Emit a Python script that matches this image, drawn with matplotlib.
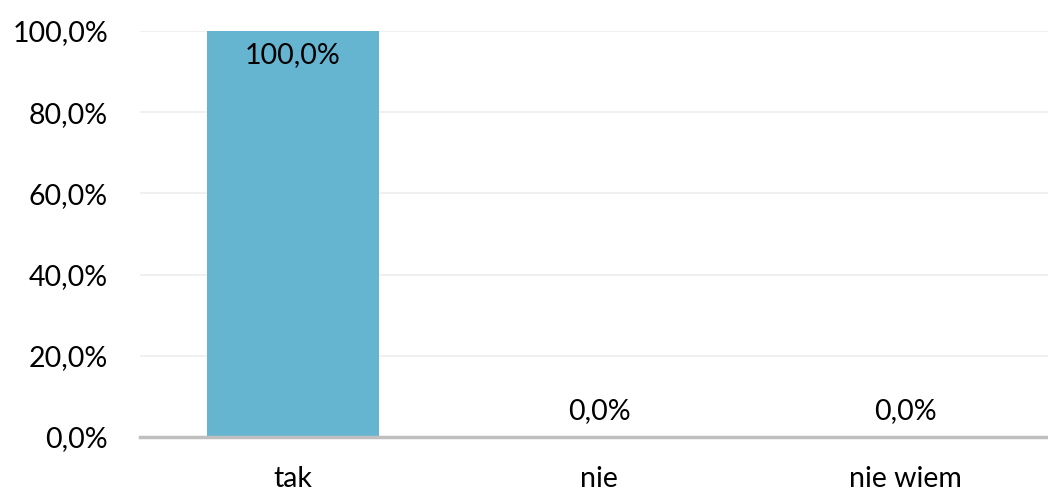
import matplotlib
matplotlib.use("Agg")
import matplotlib.pyplot as plt
from matplotlib.ticker import FuncFormatter

categories = ["tak", "nie", "nie wiem"]
values = [100.0, 0.0, 0.0]
yticks = [0, 20, 40, 60, 80, 100]

plt.rcParams['font.family'] = ['Lato', 'DejaVu Sans']

fig = plt.figure(figsize=(10.48, 4.88), dpi=100)
ax = fig.add_axes([0.1336, 0.1045, 0.876, 0.832])

x = list(range(len(categories)))
ax.bar(x, values, width=0.562, color='#65B5D1', zorder=2)
ax.set_xlim(-0.5, len(categories) - 0.5)
ax.set_ylim(0, 100)
ax.set_yticks(yticks)
ax.yaxis.set_major_formatter(FuncFormatter(lambda v, p: f"{v:.1f}%".replace('.', ',')))
ax.set_xticks(x)
ax.set_xticklabels(categories)
ax.grid(axis='y', color='#EDEDED', linewidth=1.2, zorder=0)
for s in ['top', 'right', 'left']:
    ax.spines[s].set_visible(False)
ax.spines['bottom'].set_color('#BFBFBF')
ax.spines['bottom'].set_linewidth(2.5)
ax.spines['bottom'].set_zorder(3)
ax.tick_params(axis='both', length=0, labelsize=20.5, colors='black')
ax.tick_params(axis='y', pad=23)
ax.tick_params(axis='x', pad=21)

vmax = max(values)
for xi, v in zip(x, values):
    lab = f"{v:.1f}%".replace('.', ',')
    off = -17 if v == vmax and v > 50 else 19
    ax.annotate(lab, (xi, v), xytext=(0, off), textcoords='offset points',
                ha='center', va='center', fontsize=20.5, color='black', zorder=4)

fig.savefig("out.png", dpi=100)
